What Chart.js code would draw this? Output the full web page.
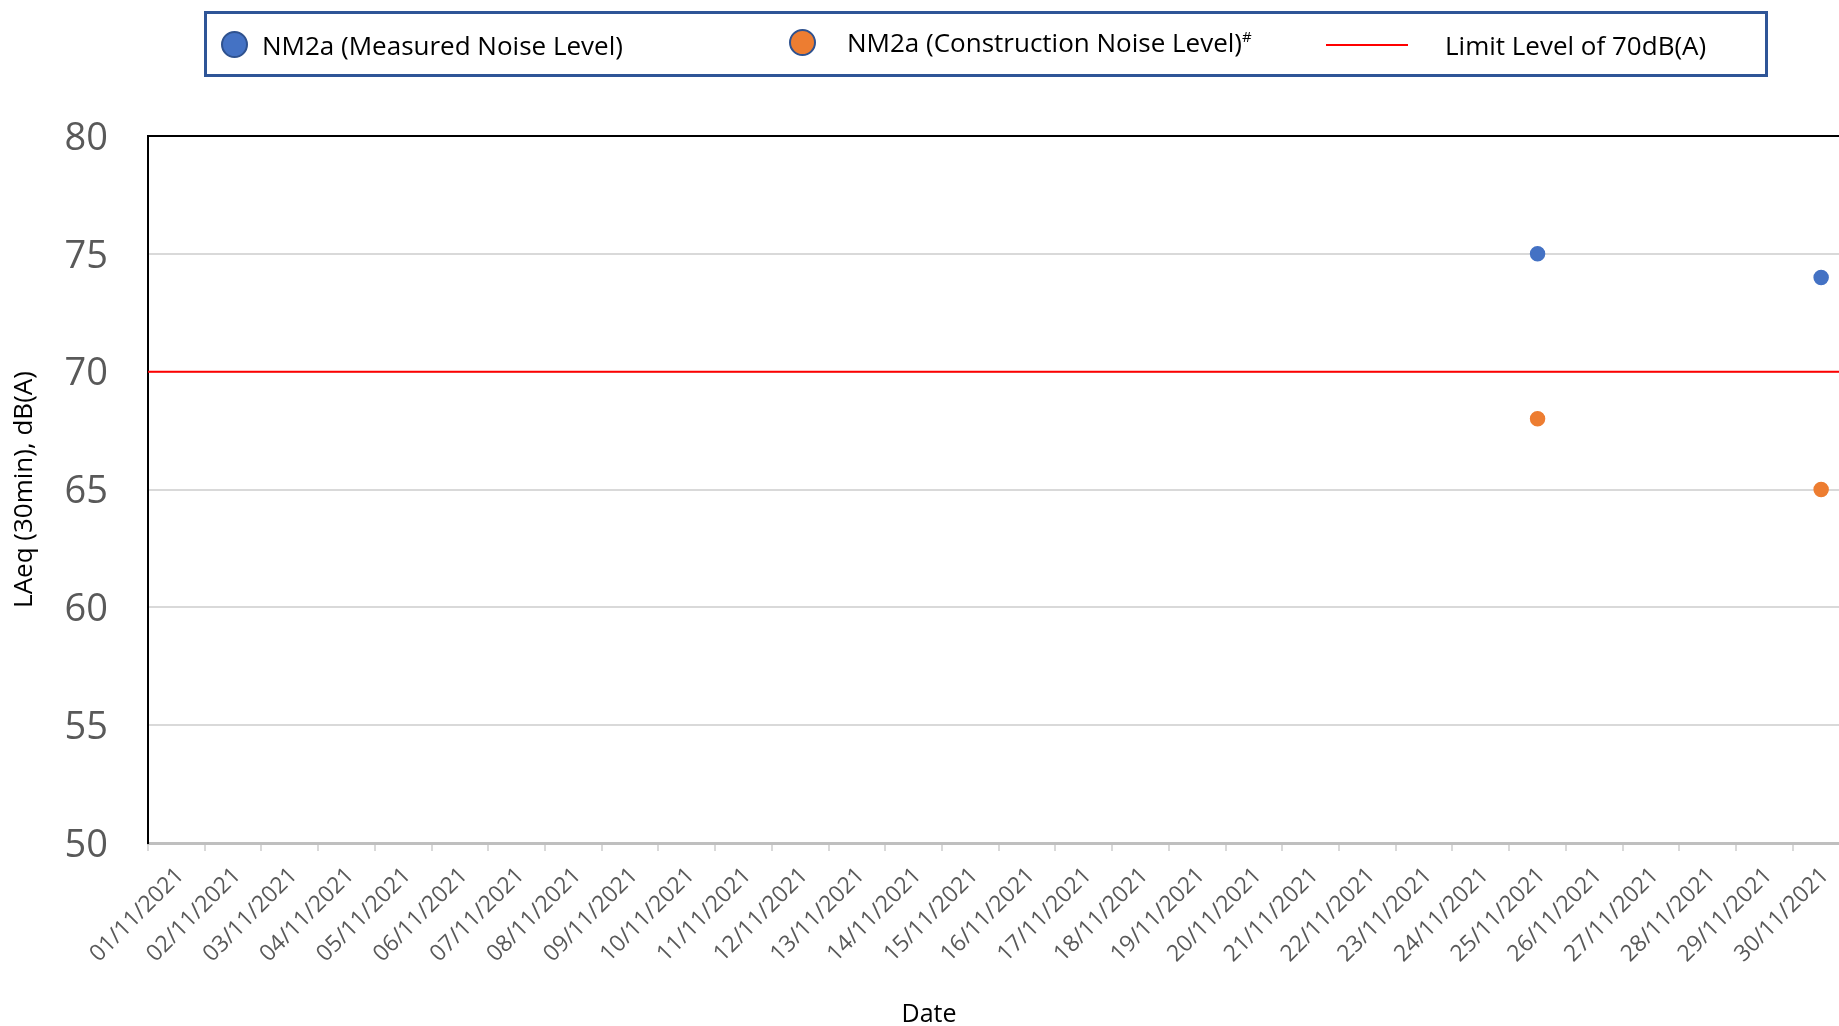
<!DOCTYPE html>
<html>
<head>
<meta charset="utf-8">
<title>NM2a Noise Level</title>
<script src="https://cdn.jsdelivr.net/npm/chart.js@4.4.1/dist/chart.umd.min.js"></script>
<style>
  html, body { margin: 0; padding: 0; background: #fff; overflow: hidden; }
  #wrap { position: relative; width: 1839px; height: 1026px; overflow: hidden; }
  #noiseChart { position: absolute; left: 0; top: 0; }
  #legendBox {
    position: absolute; left: 204px; top: 11px; width: 1564px; height: 66px;
    border: 3px solid #2F5597; box-sizing: border-box;
  }
  .lg-item {
    position: absolute; display: flex; align-items: center; white-space: nowrap;
    transform: translateY(-50%);
    font-family: 'Open Sans', sans-serif; font-size: 26px; color: #000;
  }
  .lg-dot { width: 27px; height: 27px; border-radius: 50%; border: 2px solid #2F528F; box-sizing: border-box; }
  .lg-line { width: 82px; height: 2px; }
  .lg-item sup { font-size: 15px; vertical-align: 10px; line-height: 0; }
</style>
</head>
<body>
<div id="wrap">
  <canvas id="noiseChart" width="1858" height="1026"></canvas>
  <div id="legendBox"></div>
</div>
<script>
// category / tick labels
const dateLabels = [
  '01/11/2021', '02/11/2021', '03/11/2021', '04/11/2021', '05/11/2021',
  '06/11/2021', '07/11/2021', '08/11/2021', '09/11/2021', '10/11/2021',
  '11/11/2021', '12/11/2021', '13/11/2021', '14/11/2021', '15/11/2021',
  '16/11/2021', '17/11/2021', '18/11/2021', '19/11/2021', '20/11/2021',
  '21/11/2021', '22/11/2021', '23/11/2021', '24/11/2021', '25/11/2021',
  '26/11/2021', '27/11/2021', '28/11/2021', '29/11/2021', '30/11/2021'
];
const yTickValues = [50, 55, 60, 65, 70, 75, 80];

// measured noise level, dB(A)
const measuredDates = ['25/11/2021', '30/11/2021'];
const measuredLevels = [75, 74];

// construction noise level, dB(A)
const constructionDates = ['25/11/2021', '30/11/2021'];
const constructionLevels = [68, 65];

// limit level
const limitLevel = 70;

// legend placement inside the framed box (page px: left edge, vertical centre, gap to text)
const legendSlots = [
  { left: 221, mid: 44.5, gap: 14 },
  { left: 789, mid: 42, gap: 31 },
  { left: 1326, mid: 44.5, gap: 37 }
];
const legendBoxPos = { left: 204, top: 11, border: 3 };

/**
 * Builds the framed legend from the chart datasets
 */
const htmlLegendPlugin = {
  id: 'htmlLegend',
  afterUpdate(chart) {
    const box = document.getElementById('legendBox');
    box.innerHTML = '';
    chart.data.datasets.forEach((ds, i) => {
      const slot = legendSlots[i];
      const item = document.createElement('div');
      item.className = 'lg-item';
      item.style.left = (slot.left - legendBoxPos.left - legendBoxPos.border) + 'px';
      item.style.top = (slot.mid - legendBoxPos.top - legendBoxPos.border) + 'px';

      const mark = document.createElement('span');
      if (ds.showLine === false) {
        mark.className = 'lg-dot';
        mark.style.background = ds.backgroundColor;
      } else {
        mark.className = 'lg-line';
        mark.style.background = ds.borderColor;
      }
      mark.style.marginRight = slot.gap + 'px';
      item.appendChild(mark);

      const text = document.createElement('span');
      const label = ds.label;
      if (label.endsWith('#')) {
        text.textContent = label.slice(0, -1);
        const sup = document.createElement('sup');
        sup.textContent = '#';
        text.appendChild(sup);
      } else {
        text.textContent = label;
      }
      item.appendChild(text);
      box.appendChild(item);
    });
  }
};

Chart.defaults.font.family = "'Open Sans', sans-serif";

const ctx = document.getElementById('noiseChart').getContext('2d');
const noiseChart = new Chart(ctx, {
  type: 'line',
  data: {
    labels: dateLabels,
    datasets: [
      {
        label: 'NM2a (Measured Noise Level)',
        data: measuredDates.map((d, i) => ({ x: d, y: measuredLevels[i] })),
        showLine: false,
        backgroundColor: '#4472C4',
        borderColor: '#4472C4',
        pointRadius: 7,
        pointBorderWidth: 1.5,
        pointHoverRadius: 7
      },
      {
        label: 'NM2a (Construction Noise Level)#',
        data: constructionDates.map((d, i) => ({ x: d, y: constructionLevels[i] })),
        showLine: false,
        backgroundColor: '#ED7D31',
        borderColor: '#ED7D31',
        pointRadius: 7,
        pointBorderWidth: 1.5,
        pointHoverRadius: 7
      },
      {
        label: 'Limit Level of 70dB(A)',
        xAxisID: 'xLimit',
        data: [{ x: 0, y: limitLevel }, { x: 1, y: limitLevel }],
        borderColor: '#FF0000',
        backgroundColor: '#FF0000',
        borderWidth: 2,
        pointRadius: 0,
        fill: false
      }
    ]
  },
  options: {
    responsive: false,
    animation: false,
    devicePixelRatio: 1,
    layout: { padding: { top: 136, right: 0, bottom: 0, left: 0 } },
    plugins: {
      legend: { display: false },
      tooltip: { enabled: false },
      title: {
        display: true,
        position: 'bottom',
        text: 'Date',
        color: '#000',
        font: { size: 25, weight: 'normal', lineHeight: 0.9 },
        padding: { top: 0, bottom: 0 }
      }
    },
    scales: {
      x: {
        type: 'category',
        offset: true,
        grid: {
          offset: true,
          drawOnChartArea: false,
          drawTicks: true,
          tickLength: 8,
          color: '#d9d9d9',
          lineWidth: 2
        },
        border: { color: '#bfbfbf', width: 3 },
        ticks: {
          autoSkip: false,
          minRotation: 45,
          maxRotation: 45,
          color: '#595959',
          font: { size: 23 },
          padding: 11,
          labelOffset: 4
        },
        afterFit(scale) { scale.height = 160.5; }
      },
      xLimit: {
        type: 'linear',
        display: false,
        min: 0,
        max: 1
      },
      y: {
        min: yTickValues[0],
        max: yTickValues[yTickValues.length - 1],
        afterBuildTicks(scale) { scale.ticks = yTickValues.map(v => ({ value: v })); },
        grid: {
          drawTicks: false,
          color: c => (c.tick && c.tick.value === 80 ? '#000' : '#d9d9d9'),
          lineWidth: 2
        },
        border: { color: '#000', width: 2 },
        ticks: { color: '#595959', font: { size: 38 }, padding: 40, labelOffset: 3 },
        title: {
          display: true,
          text: 'LAeq (30min), dB(A)',
          color: '#000',
          font: { size: 26 },
          padding: { top: 9, bottom: 0 }
        },
        afterFit(scale) { scale.width = 148; }
      }
    }
  },
  plugins: [htmlLegendPlugin]
});
</script>
</body>
</html>
